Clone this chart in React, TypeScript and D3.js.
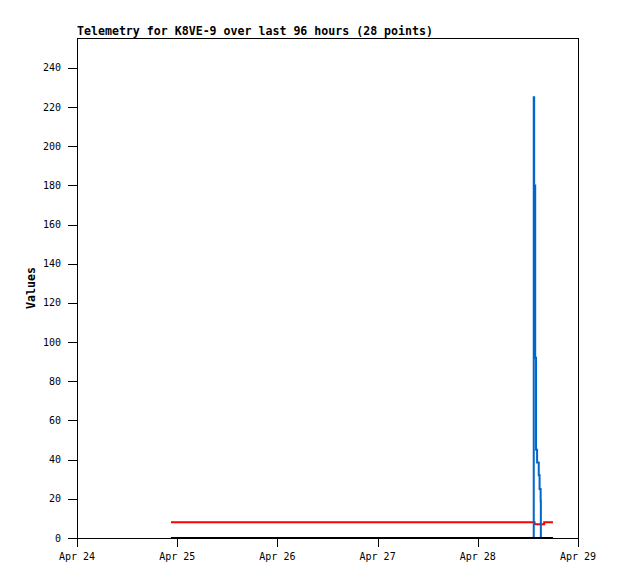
import React from "react";
import * as d3 from "d3";

// hours since Apr 24 00:00
const hours = [22.5, 30, 38, 46, 54, 62, 70, 78, 86, 94, 102, 106, 109.3, 109.4, 109.5, 109.6, 109.75, 109.95, 110.2, 110.6, 110.8, 111.05, 111.1, 111.5, 111.9, 112.8, 113.4, 114.0];
const blueValues = [0, 0, 0, 0, 0, 0, 0, 0, 0, 0, 0, 0, 0, 225, 180, 180, 92, 45, 38.5, 32, 25, 19, 0, 0, 0, 0, 0, 0];
const redValues = [8, 8, 8, 8, 8, 8, 8, 8, 8, 8, 8, 8, 8, 8, 8, 7, 7, 7, 7, 7, 7, 7, 7, 7, 8, 8, 8, 8];
const blackValues = [0, 0, 0, 0, 0, 0, 0, 0, 0, 0, 0, 0, 0, 0, 0, 0, 0, 0, 0, 0, 0, 0, 0, 0, 0, 0, 0, 0];
const xTickHours = [0, 24, 48, 72, 96, 120];
const xTickLabels = ["Apr 24", "Apr 25", "Apr 26", "Apr 27", "Apr 28", "Apr 29"];
const yTicks = [0, 20, 40, 60, 80, 100, 120, 140, 160, 180, 200, 220, 240];
const title = "Telemetry for K8VE-9 over last 96 hours (28 points)";
const yLabel = "Values";

const W = 618, H = 579;
const L = 77, R = 578, T = 38, B = 538;

export default function App() {
  const x = d3.scaleLinear().domain([0, 120]).range([L, R]);
  const y = d3.scaleLinear().domain([0, 255.3]).range([B, T]);
  const mk = (vals: number[]) =>
    d3.line<number>().x((_, i) => x(hours[i])).y((v) => y(v)).curve(d3.curveStepAfter)(vals) || "";
  const mono = "'DejaVu Sans Mono', 'Liberation Mono', monospace";
  return (
    <svg width={W} height={H} style={{ position: "absolute", left: 0, top: 0, background: "#fff" }}>
      <rect x={0} y={0} width={W} height={H} fill="#fff" />
      <text x={L} y={35} fontFamily={mono} fontWeight="bold" fontSize={11.6} fill="#000">{title}</text>
      <rect x={L} y={T} width={R - L} height={B - T} fill="none" stroke="#000" strokeWidth={1} shapeRendering="crispEdges" />
      <path d={mk(redValues)} fill="none" stroke="#ff0000" strokeWidth={2} />
      <path d={mk(blueValues)} fill="none" stroke="#0066cc" strokeWidth={2} />
      <path d={mk(blackValues)} fill="none" stroke="#000" strokeWidth={2} />
      {yTicks.map((t) => (
        <g key={t}>
          <line x1={L - 9} x2={L} y1={Math.round(y(t)) + 0.5} y2={Math.round(y(t)) + 0.5} stroke="#000" shapeRendering="crispEdges" />
          <text x={L - 16} y={y(t)} dy="0.35em" textAnchor="end" fontFamily={mono} fontSize={10} fill="#000">{t}</text>
        </g>
      ))}
      {xTickHours.map((h, i) => (
        <g key={h}>
          <line x1={Math.round(x(h)) + 0.5} x2={Math.round(x(h)) + 0.5} y1={B} y2={B + 9} stroke="#000" shapeRendering="crispEdges" />
          <text x={x(h)} y={560} textAnchor="middle" fontFamily={mono} fontSize={10} fill="#000">{xTickLabels[i]}</text>
        </g>
      ))}
      <text transform={`translate(35,${(T + B) / 2}) rotate(-90)`} textAnchor="middle" fontFamily={mono} fontWeight="bold" fontSize={11.6} fill="#000">{yLabel}</text>
    </svg>
  );
}
